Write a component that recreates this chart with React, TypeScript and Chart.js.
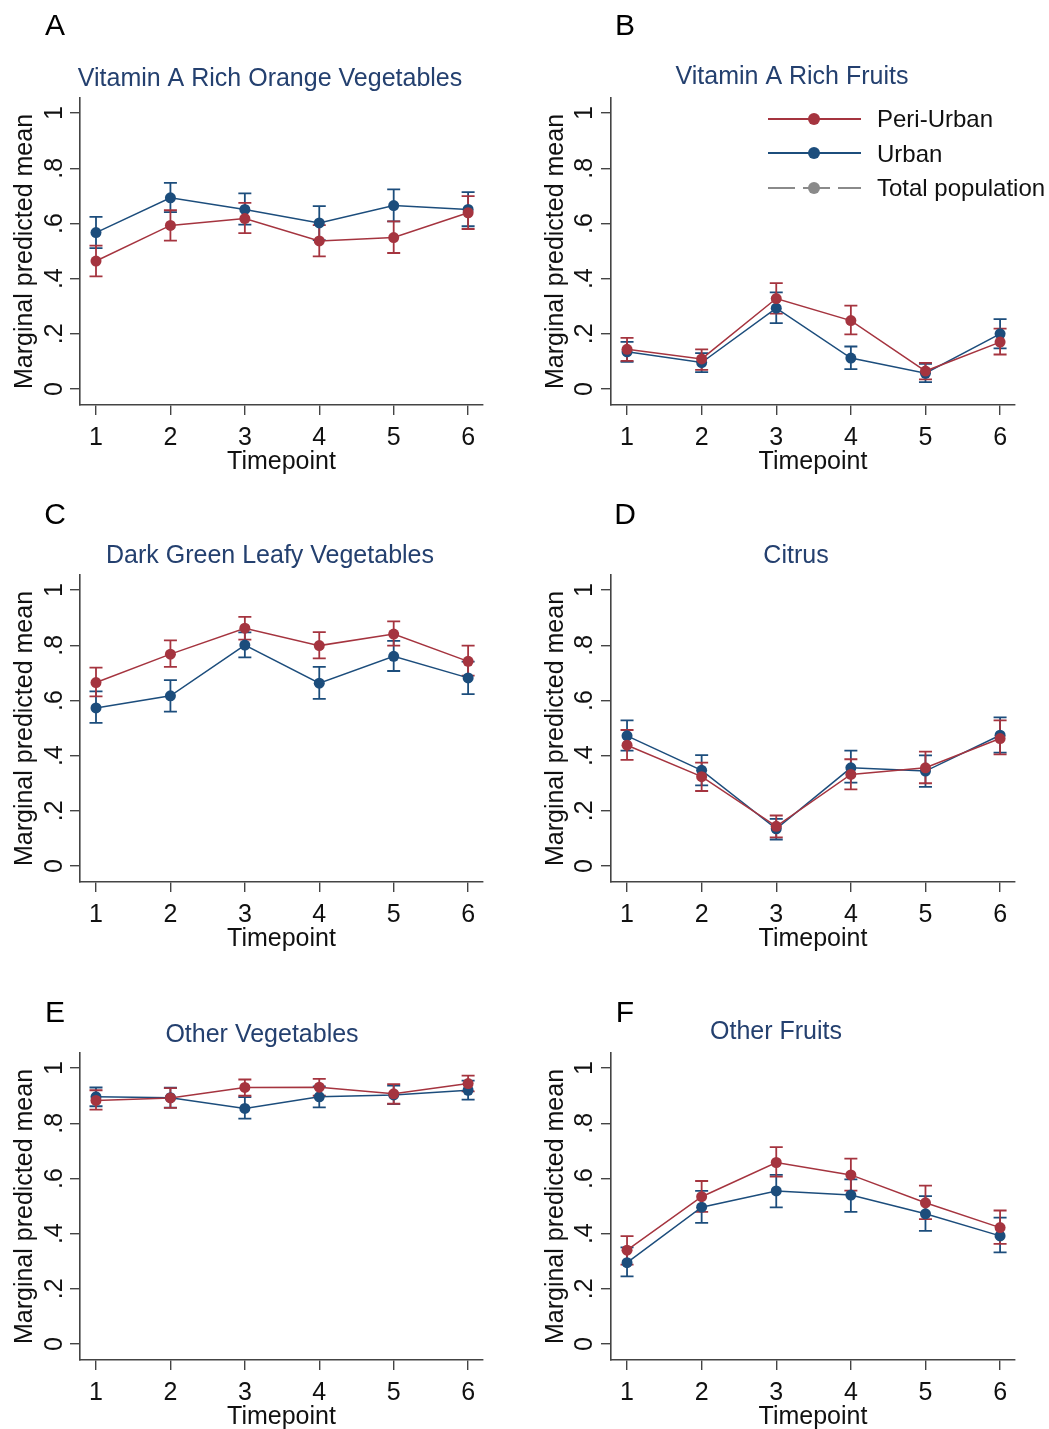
import React, { useEffect, useRef } from 'react';
import { Chart, registerables } from 'chart.js';

Chart.register(...registerables);

// ---------------- DATA ----------------
const timepoints = [1, 2, 3, 4, 5, 6];
const yTickValues = [0, 0.2, 0.4, 0.6, 0.8, 1];
const yTickLabels = ['0', '.2', '.4', '.6', '.8', '1'];
const xAxisTitle = 'Timepoint';
const yAxisTitle = 'Marginal predicted mean';
const panelLetters = ['A', 'B', 'C', 'D', 'E', 'F'];
const panelTitles = [
  'Vitamin A Rich Orange Vegetables',
  'Vitamin A Rich Fruits',
  'Dark Green Leafy Vegetables',
  'Citrus',
  'Other Vegetables',
  'Other Fruits',
];
const seriesNames = ['Peri-Urban', 'Urban', 'Total population'];

// A: Vitamin A rich orange vegetables
const periA = [0.464, 0.593, 0.618, 0.537, 0.549, 0.639];
const periALo = [0.408, 0.538, 0.565, 0.481, 0.493, 0.58];
const periAHi = [0.52, 0.648, 0.675, 0.594, 0.608, 0.699];
const urbA = [0.567, 0.693, 0.651, 0.602, 0.665, 0.651];
const urbALo = [0.511, 0.641, 0.596, 0.54, 0.608, 0.59];
const urbAHi = [0.624, 0.747, 0.709, 0.663, 0.724, 0.714];

// B: Vitamin A rich fruits
const periB = [0.144, 0.109, 0.328, 0.248, 0.065, 0.17];
const periBLo = [0.102, 0.069, 0.273, 0.198, 0.035, 0.125];
const periBHi = [0.185, 0.144, 0.384, 0.302, 0.095, 0.219];
const urbB = [0.135, 0.096, 0.293, 0.112, 0.057, 0.2];
const urbBLo = [0.098, 0.061, 0.239, 0.072, 0.025, 0.147];
const urbBHi = [0.171, 0.13, 0.35, 0.154, 0.091, 0.253];

// C: Dark green leafy vegetables
const periC = [0.665, 0.768, 0.862, 0.799, 0.841, 0.742];
const periCLo = [0.615, 0.722, 0.821, 0.753, 0.799, 0.69];
const periCHi = [0.719, 0.818, 0.903, 0.848, 0.887, 0.799];
const urbC = [0.573, 0.617, 0.801, 0.663, 0.76, 0.682];
const urbCLo = [0.519, 0.56, 0.756, 0.606, 0.707, 0.623];
const urbCHi = [0.633, 0.674, 0.847, 0.722, 0.816, 0.741];

// D: Citrus
const periD = [0.438, 0.324, 0.144, 0.332, 0.356, 0.462];
const periDLo = [0.385, 0.272, 0.104, 0.278, 0.3, 0.405];
const periDHi = [0.493, 0.375, 0.183, 0.387, 0.415, 0.528];
const urbD = [0.472, 0.347, 0.135, 0.356, 0.344, 0.474];
const urbDLo = [0.418, 0.292, 0.096, 0.302, 0.287, 0.411];
const urbDHi = [0.528, 0.402, 0.171, 0.418, 0.401, 0.539];

// E: Other vegetables
const periE = [0.883, 0.892, 0.93, 0.931, 0.907, 0.944];
const periELo = [0.85, 0.856, 0.9, 0.9, 0.871, 0.916];
const periEHi = [0.92, 0.928, 0.959, 0.961, 0.942, 0.973];
const urbE = [0.896, 0.893, 0.854, 0.896, 0.903, 0.92];
const urbELo = [0.862, 0.857, 0.817, 0.858, 0.87, 0.886];
const urbEHi = [0.93, 0.929, 0.895, 0.934, 0.937, 0.955];

// F: Other fruits
const periF = [0.34, 0.534, 0.658, 0.613, 0.512, 0.422];
const periFLo = [0.288, 0.479, 0.607, 0.556, 0.453, 0.363];
const periFHi = [0.391, 0.591, 0.714, 0.672, 0.574, 0.484];
const urbF = [0.295, 0.496, 0.555, 0.54, 0.472, 0.392];
const urbFLo = [0.245, 0.439, 0.495, 0.479, 0.41, 0.332];
const urbFHi = [0.35, 0.555, 0.613, 0.597, 0.536, 0.458];

const periMeans = [periA, periB, periC, periD, periE, periF];
const periLows = [periALo, periBLo, periCLo, periDLo, periELo, periFLo];
const periHighs = [periAHi, periBHi, periCHi, periDHi, periEHi, periFHi];
const urbMeans = [urbA, urbB, urbC, urbD, urbE, urbF];
const urbLows = [urbALo, urbBLo, urbCLo, urbDLo, urbELo, urbFLo];
const urbHighs = [urbAHi, urbBHi, urbCHi, urbDHi, urbEHi, urbFHi];

// ---------------- STYLE / LAYOUT ----------------
const RED = '#a5343f';
const BLUE = '#1c4d7c';
const GRAY = '#8a8a8a';
const AXIS = '#444444';
const TEXT = '#111111';
const TITLE_COLOR = '#24406f';
const FONT = '"Liberation Sans", Arial, sans-serif';

const X_MIN = 0.785;
const X_MAX = 6.2;
const Y_MIN = -0.058;
const Y_MAX = 1.055;

const colLefts = [0, 530];
const colWidths = [525, 519];
const chartLefts = [80, 81];
const chartRights = [483, 485];
const rowTops = [0, 477, 955];
const rowHeights = [477, 477, 474];
const CHART_TOP = 98;
const CHART_BOTTOM = 405;
const titleCenters = [270, 262, 270, 266, 262, 246];
const titleBaselines = [86, 84, 86, 86, 87, 84];
const letterXs = [55, 95];
const letterBaselines = [35, 47, 67];
const yTickBaseX = 62;
const yTitleBaseX = [32, 33];
const xTickBaseY = 445;
const xTitleBaseY = 469;

const errorBarPlugin = {
  id: 'errorBars',
  beforeDatasetsDraw(chart: any) {
    const idx = chart.options.plugins.panelInfo.idx;
    const xs = chart.scales.x;
    const ys = chart.scales.y;
    const ctx = chart.ctx;
    const groups = [
      { lo: urbLows[idx], hi: urbHighs[idx], color: BLUE },
      { lo: periLows[idx], hi: periHighs[idx], color: RED },
    ];
    ctx.save();
    ctx.lineWidth = 1.8;
    groups.forEach((g) => {
      ctx.strokeStyle = g.color;
      timepoints.forEach((t, i) => {
        const px = xs.getPixelForValue(t);
        const p1 = ys.getPixelForValue(g.lo[i]);
        const p2 = ys.getPixelForValue(g.hi[i]);
        ctx.beginPath();
        ctx.moveTo(px, p1);
        ctx.lineTo(px, p2);
        ctx.moveTo(px - 6.5, p1);
        ctx.lineTo(px + 6.5, p1);
        ctx.moveTo(px - 6.5, p2);
        ctx.lineTo(px + 6.5, p2);
        ctx.stroke();
      });
    });
    ctx.restore();
  },
};

const decorPlugin = {
  id: 'decor',
  afterDraw(chart: any) {
    const idx = chart.options.plugins.panelInfo.idx;
    const col = idx % 2;
    const row = Math.floor(idx / 2);
    const xs = chart.scales.x;
    const ys = chart.scales.y;
    const area = chart.chartArea;
    const ctx = chart.ctx;
    ctx.save();
    ctx.fillStyle = TEXT;
    ctx.font = `25px ${FONT}`;
    ctx.textBaseline = 'alphabetic';
    // y tick labels (rotated)
    yTickValues.forEach((v, i) => {
      const py = ys.getPixelForValue(v);
      ctx.save();
      ctx.translate(yTickBaseX, py);
      ctx.rotate(-Math.PI / 2);
      ctx.textAlign = 'center';
      ctx.fillText(yTickLabels[i], 0, 0);
      ctx.restore();
    });
    // y axis title
    ctx.save();
    ctx.translate(yTitleBaseX[col], (area.top + area.bottom) / 2);
    ctx.rotate(-Math.PI / 2);
    ctx.textAlign = 'center';
    ctx.fillText(yAxisTitle, 0, 0);
    ctx.restore();
    // x tick labels
    ctx.textAlign = 'center';
    timepoints.forEach((t) => {
      ctx.fillText(String(t), xs.getPixelForValue(t), xTickBaseY);
    });
    // x title
    ctx.fillText(xAxisTitle, (area.left + area.right) / 2, xTitleBaseY);
    // panel title
    ctx.fillStyle = TITLE_COLOR;
    ctx.fillText(panelTitles[idx], titleCenters[idx], titleBaselines[idx]);
    // panel letter
    ctx.fillStyle = '#000000';
    ctx.font = `30px ${FONT}`;
    ctx.fillText(panelLetters[idx], letterXs[col], letterBaselines[row]);

    // legend in panel B
    if (idx === 1) {
      const entries = [
        { name: seriesNames[0], color: RED, dash: [] as number[], y: 119, base: 127 },
        { name: seriesNames[1], color: BLUE, dash: [] as number[], y: 153, base: 162 },
        { name: seriesNames[2], color: GRAY, dash: [27, 8], y: 188, base: 196 },
      ];
      entries.forEach((e) => {
        ctx.save();
        ctx.strokeStyle = e.color;
        ctx.lineWidth = 2;
        ctx.setLineDash(e.dash);
        ctx.beginPath();
        ctx.moveTo(238, e.y);
        ctx.lineTo(331, e.y);
        ctx.stroke();
        ctx.setLineDash([]);
        ctx.fillStyle = e.color;
        ctx.beginPath();
        ctx.arc(284, e.y, 6, 0, Math.PI * 2);
        ctx.fill();
        ctx.restore();
        ctx.fillStyle = TEXT;
        ctx.font = `24px ${FONT}`;
        ctx.textAlign = 'left';
        ctx.fillText(e.name, 347, e.base);
      });
    }
    ctx.restore();
  },
};

function PanelChart({ idx }: { idx: number }) {
  const ref = useRef<HTMLCanvasElement | null>(null);
  const col = idx % 2;
  const row = Math.floor(idx / 2);
  const W = colWidths[col];
  const H = rowHeights[row];

  useEffect(() => {
    if (!ref.current) return;
    const mk = (label: string, vals: number[], color: string) => ({
      label,
      data: timepoints.map((t, i) => ({ x: t, y: vals[i] })),
      borderColor: color,
      backgroundColor: color,
      borderWidth: 1.5,
      pointRadius: 5.5,
      pointHoverRadius: 5.5,
      pointBorderWidth: 0,
      pointBackgroundColor: color,
      tension: 0,
      fill: false,
    });
    const chart = new Chart(ref.current, {
      type: 'line',
      data: {
        datasets: [
          mk(seriesNames[0], periMeans[idx], RED),
          mk(seriesNames[1], urbMeans[idx], BLUE),
        ],
      },
      options: {
        animation: false,
        responsive: false,
        devicePixelRatio: 1,
        events: [],
        layout: {
          padding: { top: CHART_TOP, left: 0, right: W - chartRights[col], bottom: 0 },
        },
        plugins: {
          legend: { display: false },
          tooltip: { enabled: false },
          title: { display: false },
          panelInfo: { idx },
        } as any,
        scales: {
          x: {
            type: 'linear',
            min: X_MIN,
            max: X_MAX,
            afterBuildTicks: (s: any) => {
              s.ticks = timepoints.map((v) => ({ value: v }));
            },
            afterFit: (s: any) => {
              s.height = H - CHART_BOTTOM;
            },
            ticks: { display: false },
            grid: {
              display: true,
              drawOnChartArea: false,
              drawTicks: true,
              tickLength: 10,
              color: AXIS,
              lineWidth: 1.4,
            },
            border: { display: true, color: AXIS, width: 1.6 },
          },
          y: {
            type: 'linear',
            min: Y_MIN,
            max: Y_MAX,
            afterBuildTicks: (s: any) => {
              s.ticks = yTickValues.map((v) => ({ value: v }));
            },
            afterFit: (s: any) => {
              s.width = chartLefts[col];
            },
            ticks: { display: false },
            grid: {
              display: true,
              drawOnChartArea: false,
              drawTicks: true,
              tickLength: 10,
              color: AXIS,
              lineWidth: 1.4,
            },
            border: { display: true, color: AXIS, width: 1.6 },
          },
        },
      } as any,
      plugins: [errorBarPlugin, decorPlugin],
    });
    return () => chart.destroy();
  }, [idx]);

  return (
    <canvas
      ref={ref}
      width={W}
      height={H}
      style={{
        position: 'absolute',
        left: colLefts[col],
        top: rowTops[row],
        width: W,
        height: H,
      }}
    />
  );
}

export default function App() {
  return (
    <div
      style={{
        position: 'absolute',
        left: 0,
        top: 0,
        width: 1049,
        height: 1429,
        background: '#ffffff',
        overflow: 'hidden',
      }}
    >
      {panelLetters.map((_, i) => (
        <PanelChart key={i} idx={i} />
      ))}
    </div>
  );
}
